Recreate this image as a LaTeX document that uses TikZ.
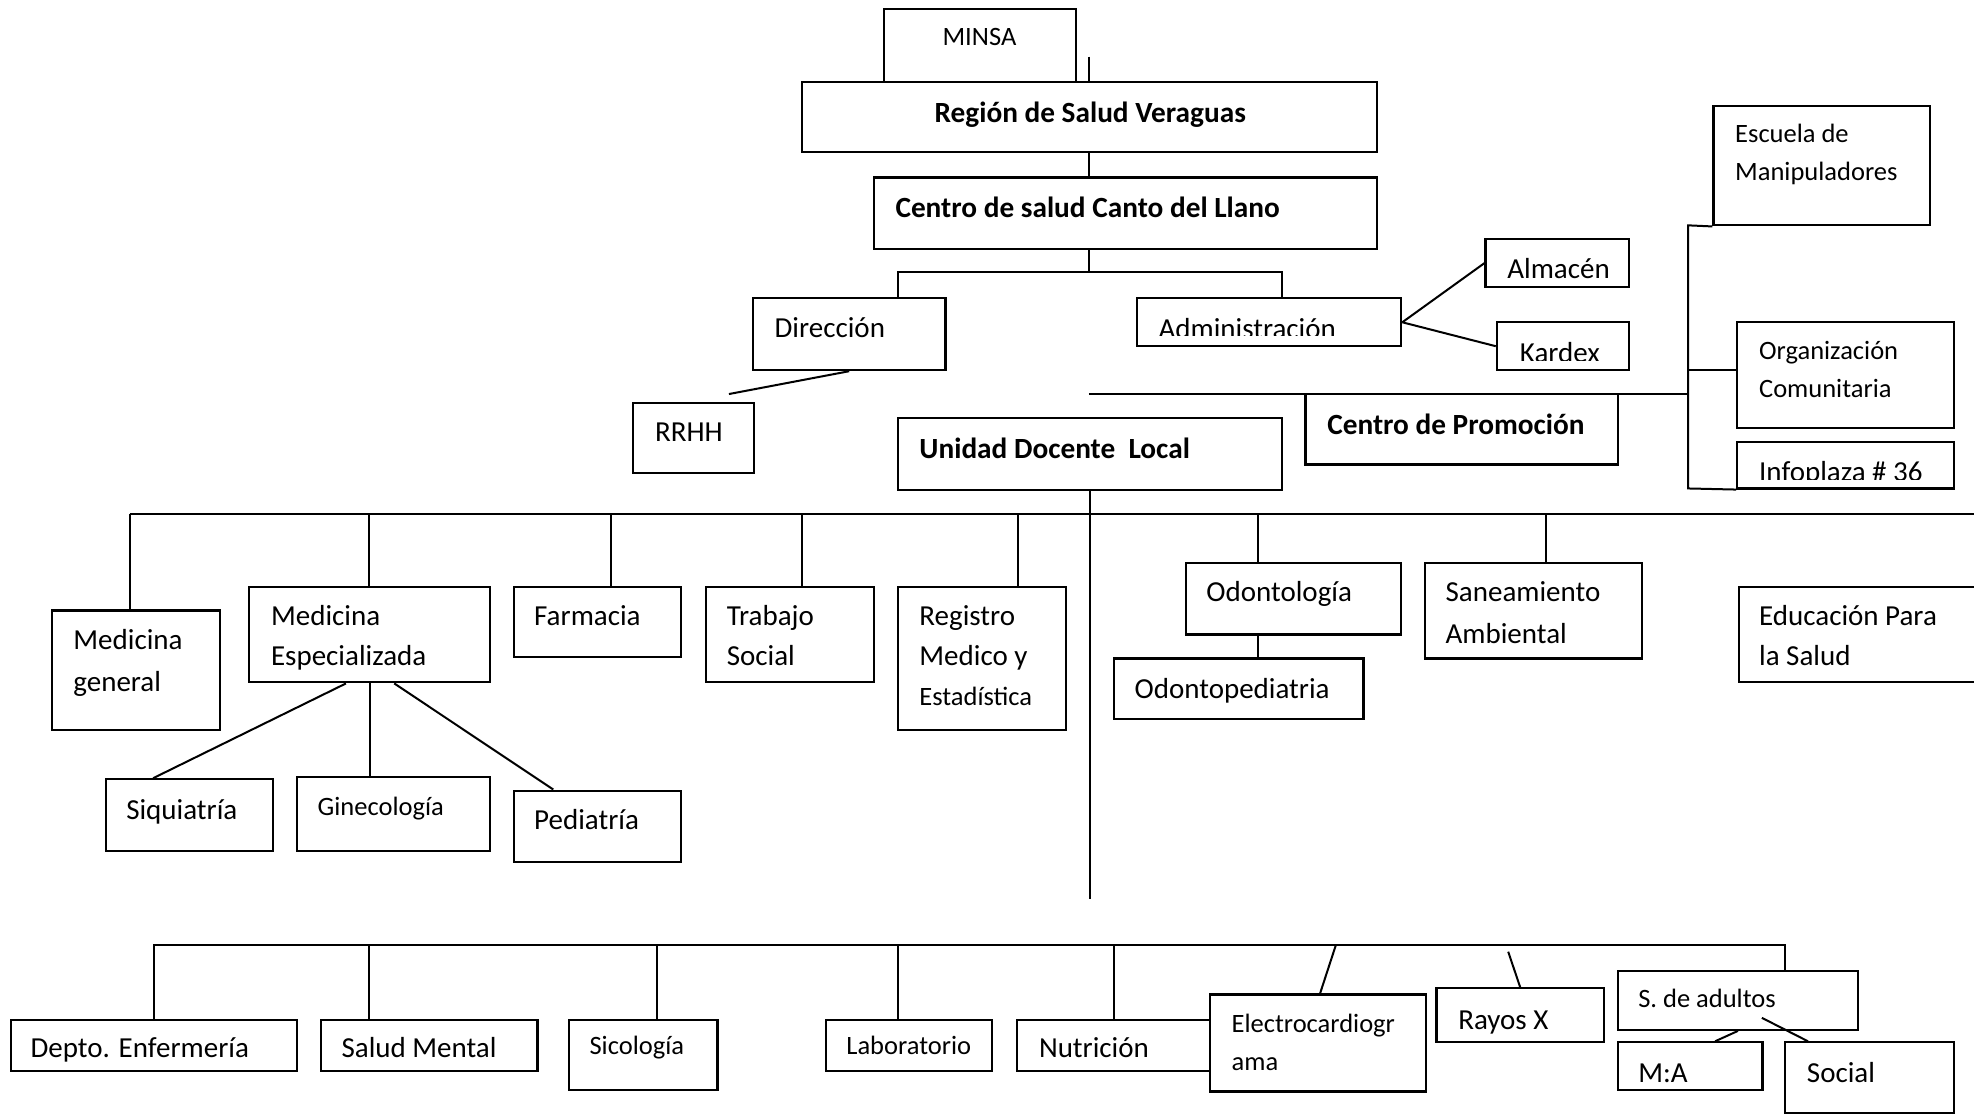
\documentclass[tikz,border=0pt]{standalone}
\usepackage{fontspec}
\setmainfont{Carlito}
\usetikzlibrary{fit,calc}
\newcommand\bx[5]{\node[bxs, fit={(#2,#3) (#4,#5)}] (#1) {};}
\tikzset{
  bxs/.style={draw, line width=1.1pt, inner sep=0pt, rectangle},
  ln/.style={line width=1pt},
  tn/.style={anchor=base west, inner sep=0pt, font=\fontsize{14.5}{17}\selectfont},
  ts/.style={anchor=base west, inner sep=0pt, font=\fontsize{13.25}{16}\selectfont},
  tb/.style={anchor=base west, inner sep=0pt, font=\fontsize{14.65}{17}\selectfont\bfseries},
}
\begin{document}
\begin{tikzpicture}[x=0.6295pt, y=-0.6295pt]
\useasboundingbox (0,0) rectangle (1568,886);
\fill[white] (0,0) rectangle (1568,886);
\clip (0,0) rectangle (1568,886);

% ---------- boxes ----------
\bx{minsa}{702}{7}{855}{65}
\bx{region}{637}{65}{1094}{121}
\bx{centro}{694}{141}{1094}{198}
\bx{dir}{598}{237}{751}{294}
\bx{rrhh}{503}{320}{599}{376}
\bx{adm}{903}{237}{1113}{275}
\bx{alm}{1180}{190}{1294}{228}
\bx{kar}{1189}{256}{1294}{294}
\bx{esc}{1361}{84}{1533}{179}
\bx{org}{1380}{256}{1552}{340}
\bx{info}{1380}{351}{1552}{388}
\bx{promo}{1037}{313}{1285}{369}
\bx{udl}{713}{332}{1018}{389}
\bx{mg}{41}{485}{175}{580}
\bx{me}{198}{466}{389}{542}
\bx{far}{408}{466}{541}{522}
\bx{ts}{561}{466}{694}{542}
\bx{reg}{713}{466}{847}{580}
\bx{siq}{84}{619}{217}{676}
\bx{gin}{236}{617}{389}{676}
\bx{ped}{408}{628}{541}{685}
\bx{od}{942}{447}{1113}{504}
\bx{odp}{885}{523}{1083}{571}
\bx{san}{1132}{447}{1304}{523}
\bx{edu}{1381}{466}{1600}{542}
\bx{dep}{9}{810}{236}{851}
\bx{sm}{255}{810}{427}{851}
\bx{sic}{452}{810}{570}{866}
\bx{lab}{656}{810}{788}{851}
\bx{nut}{808}{810}{961}{851}
\bx{ecg}{961}{790}{1133}{867}
\bx{rx}{1141}{785}{1274}{828}
\bx{sa}{1285}{771}{1476}{818}
\bx{ma}{1285}{828}{1400}{866}
\bx{soc}{1418}{828}{1552}{884}

% ---------- texts ----------
\begin{scope}[shift={(0,1)}]
\node[ts, anchor=base] (minsa-t) at (778,35) {MINSA};
\node[tb, anchor=base] (region-t) at (866,96) {Región de Salud Veraguas};
\node[tb] (centro-t) at (711,172) {Centro de salud Canto del Llano};
\node[tn] (dir-t) at (615,267) {Dirección};
\node[tn] (rrhh-t) at (520,350) {RRHH};
\node[tn] (alm-t) at (1197,220) {Almacén};
\node[ts] (esc-t1) at (1378,112) {Escuela de};
\node[ts] (esc-t2) at (1378,142) {Manipuladores};
\node[ts] (org-t1) at (1397,284.5) {Organización};
\node[ts] (org-t2) at (1397,314.5) {Comunitaria};
\node[tb] (promo-t) at (1054,344) {Centro de Promoción};
\node[tb] (udl-t) at (730,363) {Unidad Docente\ \ Local};

\node[tn] (mg-t1) at (58,515) {Medicina};
\node[tn] (mg-t2) at (58,548) {general};
\node[tn] (me-t1) at (215,496) {Medicina};
\node[tn] (me-t2) at (215,528) {Especializada};
\node[tn] (far-t) at (424,496) {Farmacia};
\node[tn] (ts-t1) at (577,496) {Trabajo};
\node[tn] (ts-t2) at (577,528) {Social};
\node[tn] (reg-t1) at (730,496) {Registro};
\node[tn] (reg-t2) at (730,528) {Medico y};
\node[ts] (reg-t3) at (730,559) {Estadística};
\node[tn] (siq-t) at (100,650) {Siquiatría};
\node[ts] (gin-t) at (252,647) {Ginecología};
\node[tn] (ped-t) at (424,658) {Pediatría};
\node[tn] (od-t) at (958,477) {Odontología};
\node[tn] (odp-t) at (901,554) {Odontopediatria};
\node[tn] (san-t1) at (1148,477) {Saneamiento};
\node[tn] (san-t2) at (1148,510) {Ambiental};
\node[tn] (edu-t1) at (1397,496) {Educación Para};
\node[tn] (edu-t2) at (1397,528) {la Salud};

\node[tn] (dep-t) at (24,839) {Depto. Enfermería};
\node[tn] (sm-t) at (271,839) {Salud Mental};
\node[ts] (sic-t) at (468,837) {Sicología};
\node[ts] (lab-t) at (672,837) {Laboratorio};
\node[tn] (nut-t) at (825,839) {Nutrición};
\node[ts] (ecg-t1) at (978,819) {Electrocardiogr};
\node[ts] (ecg-t2) at (978,849) {ama};
\node[tn] (rx-t) at (1158,817) {Rayos X};
\node[ts] (sa-t) at (1301,799) {S. de adultos};
\node[tn] (ma-t) at (1301,859) {M:A};
\node[tn] (soc-t) at (1435,859) {Social};
\end{scope}
\begin{scope}
  \clip (903,237) rectangle (1113,266.5);
  \node[tn] (adm-t) at (920,268.5) {Administración};
\end{scope}
\begin{scope}
  \clip (1189,256) rectangle (1294,286);
  \node[tn] (kar-t) at (1207,288) {Kardex};
\end{scope}
\begin{scope}
  \clip (1380,351) rectangle (1552,381);
  \node[tn] (info-t) at (1397,382.5) {Infoplaza \# 36};
\end{scope}

% ---------- connectors (top) ----------
\coordinate (m1) at (865,45);
\draw[ln] (m1) -- (m1 |- region.north);
\draw[ln] (region.south -| m1) -- (m1 |- centro.north);
\coordinate (b1) at (865,216);
\coordinate (b1l) at (713,216);
\coordinate (b1r) at (1018,216);
\draw[ln] (centro.south -| b1) -- (b1);
\draw[ln] (dir.north -| b1l) |- (b1r) -- (adm.north -| b1r);
\coordinate (rr) at (579,313);
\draw[ln] (dir.south) -- (rr);
\draw[ln] (adm.east) -- (alm.west);
\draw[ln] (adm.east) -- (kar.west);
\coordinate (p0) at (865,313);
\coordinate (p1) at (1341,313);
\draw[ln] (p0) -- (p1);
\coordinate (brT) at (1341,179);
\coordinate (brB) at (1341,388);
\draw[ln] (esc.south west) -- (brT) -- (brB) -- (info.south west);
\coordinate (oj) at (1341,294);
\draw[ln] (oj) -- (oj -| org.west);

% ---------- middle bus ----------
\coordinate (e1) at (865,714);
\draw[ln] (udl.south) -- (udl.south |- e1);
\coordinate (h2l) at (103,408);
\coordinate (h2r) at (1568,408);
\draw[ln] (h2l) -- (h2r);
\draw[ln] (h2l) -- (h2l |- mg.north);
\coordinate (d2) at (293,408);
\draw[ln] (d2) -- (d2 |- me.north);
\coordinate (d3) at (485,408);
\draw[ln] (d3) -- (d3 |- far.north);
\coordinate (d4) at (637,408);
\draw[ln] (d4) -- (d4 |- ts.north);
\coordinate (d5) at (809,408);
\draw[ln] (d5) -- (d5 |- reg.north);
\coordinate (d7) at (999,408);
\draw[ln] (d7) -- (d7 |- od.north);
\draw[ln] (d7 |- od.south) -- (d7 |- odp.north);
\coordinate (d8) at (1228,408);
\draw[ln] (d8) -- (d8 |- san.north);
\draw[ln] ($(me.south west)!0.403!(me.south east)$) -- ($(siq.north west)!0.286!(siq.north east)$);
\draw[ln] (me.south) -- (me.south |- gin.north);
\draw[ln] ($(me.south west)!0.602!(me.south east)$) -- ($(ped.north west)!0.24!(ped.north east)$);

% ---------- bottom bus ----------
\coordinate (h3l) at (122,751);
\coordinate (h3r) at (1418,751);
\draw[ln] (h3l |- dep.north) -- (h3l) -- (h3r) -- (h3r |- sa.north);
\coordinate (f2) at (293,751);
\draw[ln] (f2) -- (f2 |- sm.north);
\coordinate (f3) at (522,751);
\draw[ln] (f3) -- (f3 |- sic.north);
\coordinate (f4) at (713,751);
\draw[ln] (f4) -- (f4 |- lab.north);
\coordinate (f5) at (885,751);
\draw[ln] (f5) -- (f5 |- nut.north);
\coordinate (f6) at (1061,751);
\draw[ln] (f6) -- ($(ecg.north west)!0.509!(ecg.north east)$);
\coordinate (f7) at (1198,756);
\draw[ln] (f7) -- (rx.north);
\draw[ln] (sa.south) -- ($(ma.north west)!0.67!(ma.north east)$);
\coordinate (so0) at (1399.5,808.5);
\draw[ln] (so0) -- ($(soc.north west)!0.14!(soc.north east)$);
\end{tikzpicture}
\end{document}
